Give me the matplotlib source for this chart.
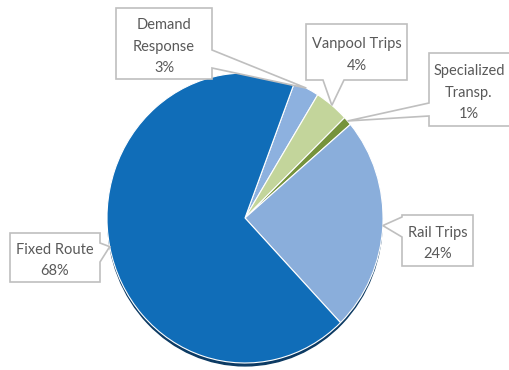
import matplotlib.pyplot as plt
from matplotlib.patches import Ellipse, Polygon
import numpy as np

labels = ["Demand\nResponse", "Vanpool Trips", "Specialized\nTransp.", "Rail Trips", "Fixed Route"]
shares = [3, 4, 1, 24, 68]
colors = ["#8db1df", "#c3d59b", "#76933c", "#8aaedb", "#106db8"]

W, H = 509, 370
CX, CY, RX, RY = 245, 218, 138, 145

def px(x, y):
    # pixel position (top-left origin) -> pie data units
    return (x - CX) / RX, (CY - y) / RY

fig = plt.figure(figsize=(W / 100, H / 100), dpi=100)
ax = fig.add_axes([0, 0, 1, 1])

# dark rim under the pie
ax.add_patch(Ellipse((0, -0.02), 1.99, 2.0, color="#0c3a63", zorder=1))

wedges, _ = ax.pie(shares, colors=colors, startangle=69, counterclock=False,
                   wedgeprops=dict(edgecolor="white", linewidth=0.8))
for w in wedges:
    w.set_zorder(2)

# callout boxes: (left, top, right, bottom), side of the pointer, pointer base span
boxes = [
    ((116, 8, 212, 79), "right", (50, 68)),
    ((306, 24, 407, 80), "bottom", (323, 344)),
    ((429, 53, 520, 126), "left", (103, 116)),
    ((402, 215, 473, 266), "left", (217, 237)),
    ((10, 233, 100, 282), "right", (243, 262)),
]

for w, lab, pct, (box, side, span) in zip(wedges, labels, shares, boxes):
    mid = np.deg2rad((w.theta1 + w.theta2) / 2)
    tip = (np.cos(mid), np.sin(mid))
    l, t, r, b = box
    a, c = span
    if side == "right":
        pts = [(l, t), (r, t), (r, a), None, (r, c), (r, b), (l, b)]
    elif side == "left":
        pts = [(l, t), (r, t), (r, b), (l, b), (l, c), None, (l, a)]
    else:
        pts = [(l, t), (r, t), (r, b), (c, b), None, (a, b), (l, b)]
    verts = [tip if p is None else px(*p) for p in pts]
    ax.add_patch(Polygon(verts, closed=True, facecolor="white", edgecolor="#bfbfbf",
                         linewidth=1.2, zorder=3, clip_on=False))
    tx, ty = px((l + min(r, 509)) / 2, (t + b) / 2 + 3)
    ax.text(tx, ty, f"{lab}\n{pct}%", ha="center", va="center", color="#595959",
            fontsize=10.5, family="Lato", linespacing=1.7, zorder=4)

ax.set_xlim(px(0, 0)[0], px(W, 0)[0])
ax.set_ylim(px(0, H)[1], px(0, 0)[1])
ax.set_aspect("auto")
ax.axis("off")

fig.savefig("out.png", dpi=100)
